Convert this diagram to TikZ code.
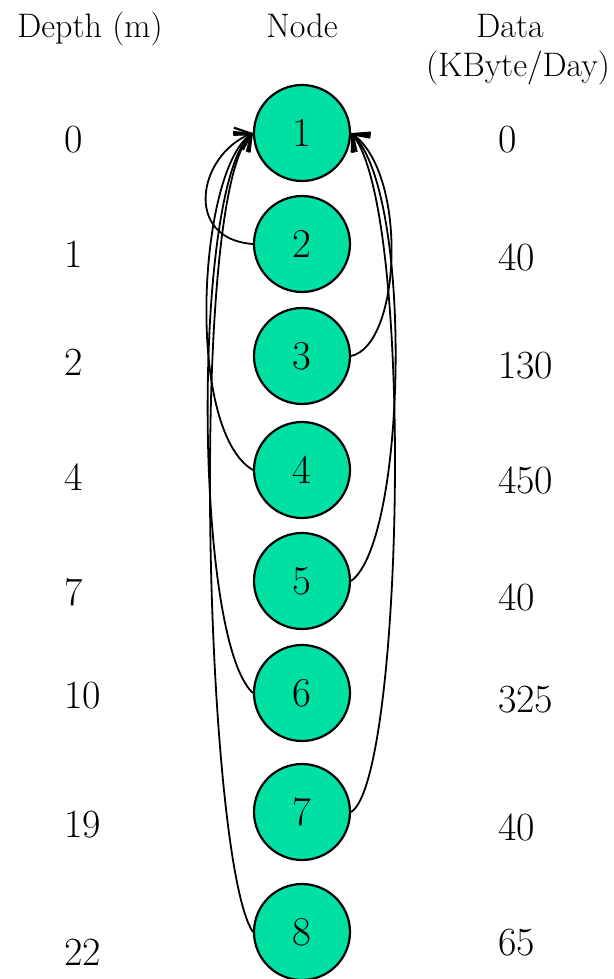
\documentclass[tikz,border=0pt]{standalone}
\usepackage{tikz}
\usetikzlibrary{arrows.meta}
\definecolor{nodegreen}{RGB}{0,224,162}

\begin{document}
\begin{tikzpicture}[x=1pt,y=-1pt,
  sensor/.style={circle,draw,line width=2.2pt,fill=nodegreen,minimum size=96pt,inner sep=0pt,font=\fontsize{41}{45}\selectfont},
  link/.style={line width=1.8pt,-{Straight Barb[length=14pt,width=24pt,line width=2.2pt]}},
  hdr/.style={anchor=base,inner sep=0pt,font=\fontsize{34}{38}\selectfont},
  val/.style={anchor=base west,inner sep=0pt,font=\fontsize{40}{44}\selectfont}]
  \useasboundingbox (0,0) rectangle (613,979);
  % Headers
  \node[hdr] (hdepth) at (90,38) {Depth (m)};
  \node[hdr] (hnode) at (302,38) {Node};
  \node[hdr] (hdata) at (510,38) {Data};
  \node[hdr] (hunit) at (518,77) {(KByte/Day)};
  % Sensor nodes
  \foreach \i/\y in {1/133,2/244,3/356,4/470,5/581,6/693,7/812,8/932}
    \node[sensor] (n\i) at (302,\y) {\i};
  % Depth and data columns
  \foreach \d/\y [count=\k] in {0/152,1/267,2/375,4/490,7/605,10/708,19/837,22/965}
    \node[val] (d\k) at (64,\y) {\d};
  \foreach \v/\y [count=\k] in {0/153,40/270,130/378,450/493,40/610,325/712,40/840,65/955}
    \node[val] (v\k) at (498,\y) {\v};
  % Links on the left
  \draw[link] (n2.west) .. controls +(-70,-5) and +(-55,22) .. (n1.west);
  \draw[link] (n4.west) .. controls +(-68,-40) and +(-55,38) .. (n1.west);
  \draw[link] (n6.west) .. controls +(-60,-55) and +(-60,50) .. (n1.west);
  \draw[link] (n8.west) .. controls +(-48,-72) and +(-65,60) .. (n1.west);
  % Links on the right
  \draw[link] (n3.east) .. controls +(50,-11) and +(57,42) .. (n1.east);
  \draw[link] (n5.east) .. controls +(56,-41) and +(62,60) .. (n1.east);
  \draw[link] (n7.east) .. controls +(52,-32) and +(64,78) .. (n1.east);
\end{tikzpicture}
\end{document}
